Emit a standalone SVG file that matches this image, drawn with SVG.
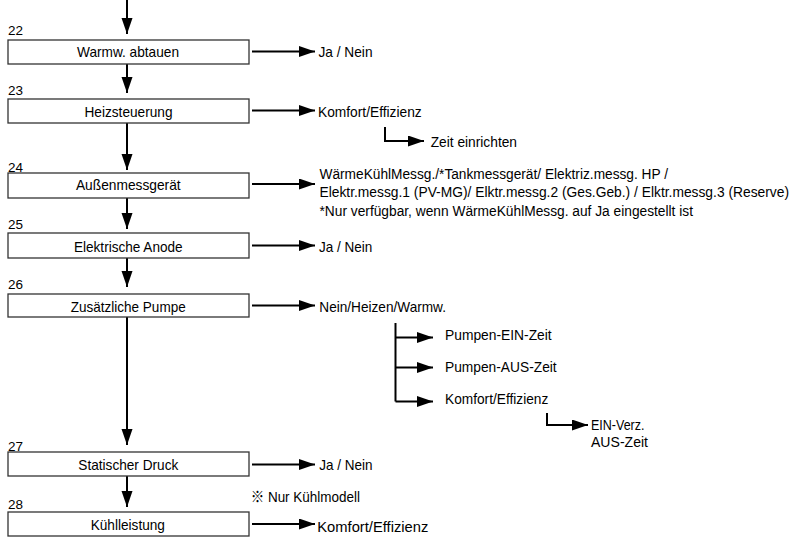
<svg xmlns="http://www.w3.org/2000/svg" width="797" height="546" viewBox="0 0 797 546">
<defs>
<marker id="ah" markerUnits="userSpaceOnUse" markerWidth="17" markerHeight="12" refX="16" refY="5.5" orient="auto">
<path d="M0,0 L16,5.5 L0,11 z" fill="#000"/>
</marker>
<style>
text{font-family:"Liberation Sans","Noto Sans CJK JP",sans-serif;font-size:15px;fill:#000}
.num{font-size:12.5px}
.sm{font-size:14px}
.box{fill:#fff;stroke:#333;stroke-width:1.3}
.lbl{text-anchor:middle}
.c{fill:none;stroke:#000;stroke-width:2}
.a{marker-end:url(#ah)}
</style>
</defs>
<rect width="797" height="546" fill="#fff"/>
<g id="connectors">
<path class="c a" d="M127,0 V34"/>
<path class="c a" d="M127,64 V93"/>
<path class="c a" d="M127,123 V170"/>
<path class="c a" d="M127,198 V229"/>
<path class="c a" d="M127,258 V287"/>
<path class="c a" d="M127,317 V445"/>
<path class="c a" d="M127,476 V507"/>
<path class="c a" d="M252,51.5 H315"/>
<path class="c a" d="M252,110.5 H315"/>
<path class="c a" d="M252,184 H315"/>
<path class="c a" d="M252,245.5 H315"/>
<path class="c a" d="M252,305.5 H315"/>
<path class="c a" d="M252,464.5 H315"/>
<path class="c a" d="M252,524 H315"/>
<path class="c a" d="M385,127 V141 H424"/>
<path class="c" d="M395.5,323 V401.5"/>
<path class="c a" d="M395.5,337.5 H433"/>
<path class="c a" d="M395.5,367.5 H433"/>
<path class="c a" d="M395.5,401.5 H433"/>
<path class="c a" d="M547,413 V425 H588"/>
</g>
<g id="n22"><text class="num" x="8" y="35" textLength="15" lengthAdjust="spacingAndGlyphs">22</text><rect class="box" x="8" y="40" width="241" height="24"/><text class="lbl" x="128" y="57.3" textLength="102" lengthAdjust="spacingAndGlyphs">Warmw. abtauen</text><text x="318.5" y="57.3" textLength="54" lengthAdjust="spacingAndGlyphs">Ja / Nein</text></g>
<g id="n23"><text class="num" x="8" y="95" textLength="15" lengthAdjust="spacingAndGlyphs">23</text><rect class="box" x="8" y="99" width="241" height="24"/><text class="lbl" x="128.5" y="117" textLength="88" lengthAdjust="spacingAndGlyphs">Heizsteuerung</text><text x="318" y="117" textLength="103.7" lengthAdjust="spacingAndGlyphs">Komfort/Effizienz</text><text x="430.7" y="146.7" textLength="86.3" lengthAdjust="spacingAndGlyphs">Zeit einrichten</text></g>
<g id="n24"><text class="num" x="8" y="171.7" textLength="15" lengthAdjust="spacingAndGlyphs">24</text><rect class="box" x="8" y="173" width="241" height="25"/><text class="lbl" x="128.3" y="190" textLength="104.7" lengthAdjust="spacingAndGlyphs">Außenmessgerät</text><text class="sm" x="319.5" y="178.5" textLength="348.5" lengthAdjust="spacingAndGlyphs">WärmeKühlMessg./*Tankmessgerät/ Elektriz.messg. HP /</text><text class="sm" x="319.5" y="197" textLength="469.5" lengthAdjust="spacingAndGlyphs">Elektr.messg.1 (PV-MG)/ Elktr.messg.2 (Ges.Geb.) / Elktr.messg.3 (Reserve)</text><text class="sm" x="319.5" y="215.5" textLength="373.5" lengthAdjust="spacingAndGlyphs">*Nur verfügbar, wenn WärmeKühlMessg. auf Ja eingestellt ist</text></g>
<g id="n25"><text class="num" x="8" y="229" textLength="15" lengthAdjust="spacingAndGlyphs">25</text><rect class="box" x="8" y="233" width="241" height="25"/><text class="lbl" x="128.3" y="251.7" textLength="108.7" lengthAdjust="spacingAndGlyphs">Elektrische Anode</text><text x="319" y="251.7" textLength="53.3" lengthAdjust="spacingAndGlyphs">Ja / Nein</text></g>
<g id="n26"><text class="num" x="8" y="289" textLength="15" lengthAdjust="spacingAndGlyphs">26</text><rect class="box" x="8" y="294" width="241" height="23"/><text class="lbl" x="128.2" y="311.7" textLength="115" lengthAdjust="spacingAndGlyphs">Zusätzliche Pumpe</text><text x="319.3" y="312" textLength="126.7" lengthAdjust="spacingAndGlyphs">Nein/Heizen/Warmw.</text><text x="445" y="340" textLength="106.7" lengthAdjust="spacingAndGlyphs">Pumpen-EIN-Zeit</text><text x="445" y="371.7" textLength="111.7" lengthAdjust="spacingAndGlyphs">Pumpen-AUS-Zeit</text><text x="445" y="404" textLength="103.3" lengthAdjust="spacingAndGlyphs">Komfort/Effizienz</text><text x="591" y="430" textLength="53.5" lengthAdjust="spacingAndGlyphs">EIN-Verz.</text><text x="591" y="446.5" textLength="57" lengthAdjust="spacingAndGlyphs">AUS-Zeit</text></g>
<g id="n27"><text class="num" x="8" y="451" textLength="15" lengthAdjust="spacingAndGlyphs">27</text><rect class="box" x="8" y="452" width="241" height="24"/><text class="lbl" x="128.3" y="470" textLength="100" lengthAdjust="spacingAndGlyphs">Statischer Druck</text><text x="319.3" y="470" textLength="53.3" lengthAdjust="spacingAndGlyphs">Ja / Nein</text><text x="250.7" y="501.5" textLength="109.3" lengthAdjust="spacingAndGlyphs">※ Nur Kühlmodell</text></g>
<g id="n28"><text class="num" x="8" y="509" textLength="15" lengthAdjust="spacingAndGlyphs">28</text><rect class="box" x="8" y="512" width="241" height="24"/><text class="lbl" x="127.8" y="530" textLength="74.3" lengthAdjust="spacingAndGlyphs">Kühlleistung</text><text x="317.3" y="531.5" textLength="111" lengthAdjust="spacingAndGlyphs">Komfort/Effizienz</text></g>
</svg>
